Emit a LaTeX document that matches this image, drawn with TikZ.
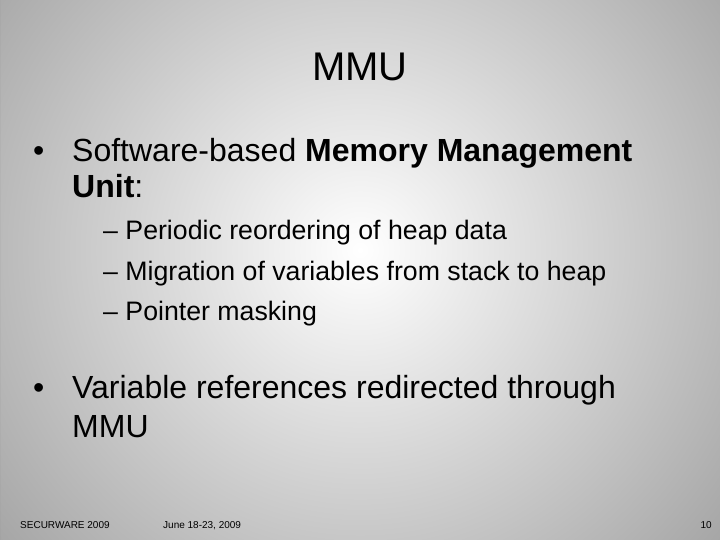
\documentclass[tikz,border=0pt]{standalone}
\usepackage{fontspec}
\setmainfont{Liberation Sans}
\begin{document}
\begin{tikzpicture}[x=1pt,y=-1pt,
  txt/.style={anchor=base west,inner sep=0pt,text=black},
  big/.style={txt,font=\fontsize{32}{36}\selectfont},
  mid/.style={txt,font=\fontsize{26.7}{30}\selectfont},
  foot/.style={txt,font=\fontsize{10}{12}\selectfont}]
\useasboundingbox (0,0) rectangle (720,540);
\shade[inner color=white,outer color=black!42] (-200,-300) rectangle (920,800);
\fill[black!42,even odd rule] (-300,-400) rectangle (1020,900) (0,0) rectangle (720,540);
\node[txt,anchor=base,font=\fontsize{40}{44}\selectfont] (title) at (360,81) {MMU};
\node[big] (b1) at (33,162) {•};
\node[big] (t1) at (72,162) {Software-based \textbf{Memory Management}};
\node[big] (t1b) at (72,197) {\textbf{Unit}:};
\node[mid] (s1) at (103,240) {– Periodic reordering of heap data};
\node[mid] (s2) at (103,280) {– Migration of variables from stack to heap};
\node[mid] (s3) at (103,320) {– Pointer masking};
\node[big] (b2) at (33,398) {•};
\node[big] (t2) at (72,398) {Variable references redirected through};
\node[big] (t2b) at (72,437) {MMU};
\node[foot] (f1) at (20,528) {SECURWARE 2009};
\node[foot] (f2) at (163,528) {June 18-23, 2009};
\node[foot,anchor=base east] (f3) at (712,528) {10};
\end{tikzpicture}
\end{document}
